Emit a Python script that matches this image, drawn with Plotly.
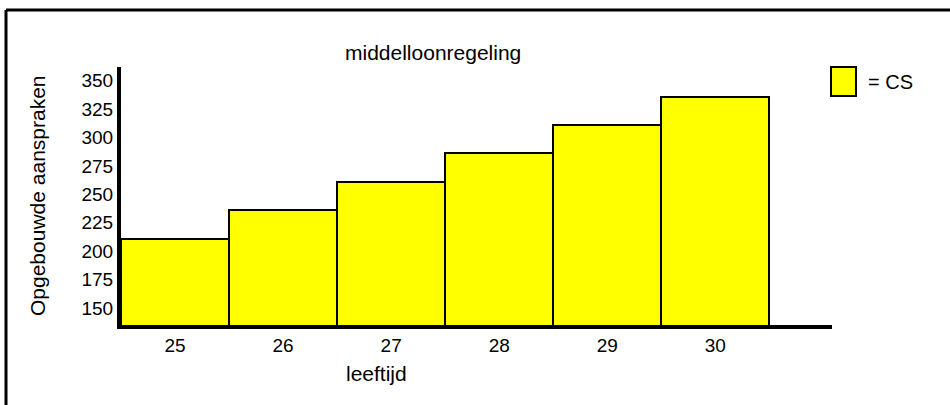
import plotly.graph_objects as go

leeftijd = ["25", "26", "27", "28", "29", "30"]
aanspraken = [211, 236, 261, 286, 311, 336]
y_ticks = [150, 175, 200, 225, 250, 275, 300, 325, 350]

W, H = 950, 405
L, R, T, B = 121, 118, 67, 80
PW, PH = W - L - R, H - T - B


def px(x):
    return (x - L) / PW


def py(y):
    return 1 - (y - T) / PH


fig = go.Figure()
fig.add_trace(go.Bar(
    x=leeftijd, y=aanspraken, name="CS",
    marker=dict(color="#FFFF00", line=dict(color="black", width=2)),
    showlegend=False,
))

font = dict(family="Arial, Liberation Sans, sans-serif", color="black")

fig.update_layout(
    width=W, height=H,
    margin=dict(l=L, r=R, t=T, b=B, pad=0),
    paper_bgcolor="white", plot_bgcolor="white",
    bargap=0,
    font=font,
    xaxis=dict(
        type="category", range=[-0.5, 6.08],
        showgrid=False, zeroline=False,
        showline=True, linecolor="black", linewidth=4,
        ticks="", tickfont=dict(size=19, **font),
    ),
    yaxis=dict(
        range=[135, 362], tickvals=y_ticks,
        showgrid=False, zeroline=False,
        showline=True, linecolor="black", linewidth=4,
        ticks="", tickfont=dict(size=19, **font),
    ),
    shapes=[
        # outer frame (top and left edges)
        dict(type="line", xref="paper", yref="paper",
             x0=px(6), x1=px(W + 5), y0=py(10), y1=py(10),
             line=dict(color="black", width=3)),
        dict(type="line", xref="paper", yref="paper",
             x0=px(6), x1=px(6), y0=py(10), y1=py(H + 5),
             line=dict(color="black", width=3)),
        # legend swatch
        dict(type="rect", xref="paper", yref="paper",
             x0=px(831), x1=px(856), y0=py(96), y1=py(67),
             fillcolor="#FFFF00", line=dict(color="black", width=2)),
    ],
    annotations=[
        dict(text="middelloonregeling", xref="paper", yref="paper",
             x=px(433), y=py(53), xanchor="center", yanchor="middle",
             showarrow=False, font=dict(size=21, **font)),
        dict(text="leeftijd", xref="paper", yref="paper",
             x=px(376), y=py(373), xanchor="center", yanchor="middle",
             showarrow=False, font=dict(size=21, **font)),
        dict(text="Opgebouwde aanspraken", xref="paper", yref="paper",
             x=px(37), y=py(196), xanchor="center", yanchor="middle",
             textangle=-90, showarrow=False, font=dict(size=21, **font)),
        dict(text="= CS", xref="paper", yref="paper",
             x=px(866), y=py(82), xanchor="left", yanchor="middle",
             showarrow=False, font=dict(size=20, **font)),
    ],
)

fig.write_html(
    "out.html",
    config={"displayModeBar": False},
    post_script="document.body.style.margin='0px';document.body.style.overflow='hidden';",
)
